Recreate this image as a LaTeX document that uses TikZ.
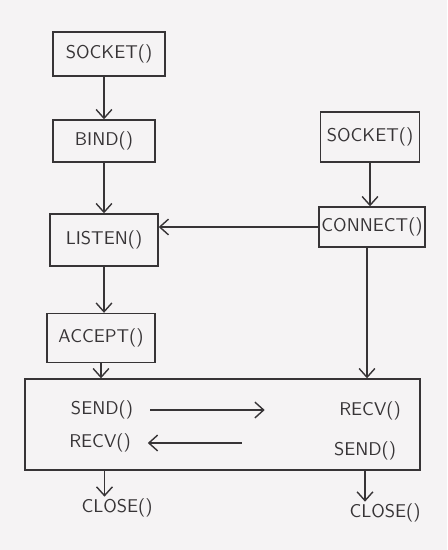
\documentclass[tikz,border=0pt]{standalone}
\usepackage{tikz}
\usetikzlibrary{positioning,arrows.meta,calc}
\definecolor{paper}{RGB}{245,243,244}
\definecolor{pen}{RGB}{55,52,54}

\begin{document}
\begin{tikzpicture}[x=0.02cm, y=-0.02cm, >={Straight Barb[length=5pt,width=9pt]},
    call/.style={draw=pen, line width=0.8pt, inner sep=0pt, font=\sffamily\fontsize{10.5}{12}\selectfont, text=pen},
    word/.style={font=\sffamily\fontsize{10.5}{12}\selectfont, text=pen, inner sep=1pt},
    link/.style={->, draw=pen, line width=0.8pt}
]

    % Paper
    \fill[paper] (0,0) rectangle (447,550);
    \useasboundingbox (0,0) rectangle (447,550);

    % Server side
    \node[call, minimum width=2.24cm, minimum height=0.88cm] (ssock) at (109,54) {SOCKET()};
    \node[call, minimum width=2.04cm, minimum height=0.84cm] (bind) at (104,141) {BIND()};
    \node[call, minimum width=2.16cm, minimum height=1.04cm] (listen) at (104,240) {LISTEN()};
    \node[call, minimum width=2.16cm, minimum height=0.98cm] (accept) at (101,338) {ACCEPT()};

    % Client side
    \node[call, minimum width=1.98cm, minimum height=1.0cm] (csock) at (370,137) {SOCKET()};
    \node[call, minimum width=2.12cm, minimum height=0.8cm] (connect) at (372,227) {CONNECT()};

    % Data exchange
    \node[call, minimum width=7.9cm, minimum height=1.82cm] (xfer) at (222.5,424.5) {};
    \node[word] (send1) at (102,410) {SEND()};
    \node[word] (recv1) at (100,443) {RECV()};
    \node[word] (recv2) at (370,411) {RECV()};
    \node[word] (send2) at (365,451) {SEND()};

    \node[word] (close1) at (117,508) {CLOSE()};
    \node[word] (close2) at (385,513) {CLOSE()};

    % Arrows
    \draw[link] (bind.north |- ssock.south) -- (bind.north);
    \draw[link] (bind.south) -- (bind.south |- listen.north);
    \draw[link] (listen.south) -- (listen.south |- accept.north);
    \draw[link] (accept.south) -- (accept.south |- xfer.north);
    \draw[link] (csock.south) -- (csock.south |- connect.north);
    \draw[link] (connect.west) -- (connect.west -| listen.east);
    \draw[link] ([xshift=-0.1cm]connect.south) -- ([xshift=-0.1cm]connect.south |- xfer.north);
    \draw[link, shorten <=0.3cm, shorten >=1.45cm] (send1.east) -- (send1.east -| recv2.west);
    \draw[link, shorten <=1.8cm, shorten >=0.3cm] (recv1.east -| send2.west) -- (recv1.east);
    \draw[link] ([xshift=-0.25cm]close1.north |- xfer.south) -- ([xshift=-0.25cm]close1.north);
    \draw[link] ([xshift=-0.4cm]close2.north |- xfer.south) -- ([xshift=-0.4cm]close2.north);

\end{tikzpicture}
\end{document}
